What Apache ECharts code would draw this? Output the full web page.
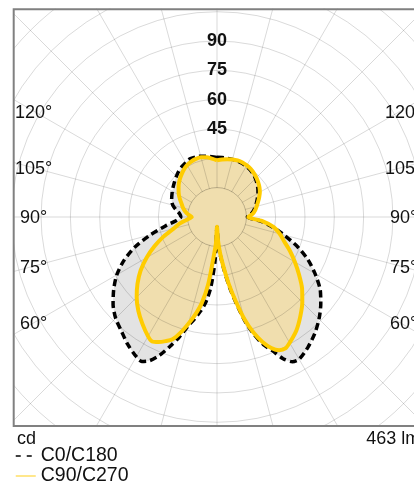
<!DOCTYPE html>
<html>
<head>
<meta charset="utf-8">
<style>
  html, body { margin: 0; padding: 0; background: #fff; }
  #chart { width: 414px; height: 481px; }
</style>
<script src="https://cdn.jsdelivr.net/npm/echarts@6/dist/echarts.min.js"></script>
</head>
<body>
<div id="chart"></div>
<script>
// Gamma angles (deg from nadir) shared by all C-planes
const gamma = [0, 2.5, 5, 7.5, 10, 12.5, 15, 17.5, 20, 22.5, 25, 27.5, 30,
  35, 40, 45, 50, 55, 60, 65, 70, 75, 80, 85, 90,
  95, 100, 105, 110, 115, 120, 125, 130, 135, 140, 145, 150, 155, 160, 165, 170, 175, 180];

// Luminous intensity, cd (right half C0 / C90, left half C180 / C270)
const c0 = [5, 14, 20, 27, 36, 45, 55, 63, 69.5, 74, 80, 83.5, 84,
  81.2, 77.8, 73.8, 69.3, 64.4, 57.9, 51.2, 43.5, 35.5, 28.5, 22, 15.5,
  17.5, 19, 20.3, 21.5, 22.8, 24.2, 25.5, 26.7, 27.8, 28.8, 29.5, 30, 30.3, 30.5, 30.5, 30.5, 30.5, 30.5];
const c180 = [5, 22, 36, 44, 49, 53.5, 58, 64.5, 70.5, 76.5, 81, 83.3, 82.5,
  79.6, 76.1, 73.3, 69.4, 64.5, 59.2, 52.5, 44.5, 35.3, 27, 20.8, 18.5,
  19.2, 21.3, 23.4, 24.7, 25.5, 26.4, 27.3, 28.3, 29.4, 30.5, 31.4, 32.1, 32.8, 32.6, 32.2, 31.6, 31, 30.5];
const c90 = [5, 12, 19, 26, 35, 44, 54, 62, 68, 72.5, 75.2, 75.8, 74.3,
  70.8, 66.3, 61.7, 56.8, 51.2, 46, 41.2, 36.6, 33.2, 29.3, 23, 16,
  18.3, 19.8, 21, 22.3, 23.8, 25.3, 26.5, 27.5, 28.5, 29.3, 30, 30.5, 30.8, 30.8, 30.5, 30, 29.5, 29];
const c270 = [5, 14, 21, 35, 44.6, 51, 56.5, 62, 66.5, 68.7, 70.6, 71.8, 70.5,
  66.6, 62.6, 58.1, 53.1, 47.7, 41.6, 35.2, 29, 23, 19.5, 15.5, 12.9,
  14.8, 16.5, 18, 19.2, 20.8, 22.5, 24, 25.6, 27, 28.3, 29.6, 30.6, 31.3, 31.6, 31.6, 31, 30, 29];

const seriesNames = ['C0/C180', 'C90/C270'];
const ringLabels = [45, 60, 75, 90];
const sideAngleLabels = [120, 105, 90, 75, 60];
const unitLabel = 'cd';
const fluxLabel = '463 lm';

// Layout
const CX = 217, CY = 217;
const PX_PER_CD = 1.955;
const R_MAX = 150;
const R_STEP = 15;
const LABEL_DX = 184.5;
const FRAME = { x: 13.7, y: 9.3, w: 406.6, h: 416.7 };
const fontFamily = '"Liberation Sans", Arial, Helvetica, sans-serif';
const gridColor = 'rgba(0,0,0,0.15)';
const greyFill = '#e3e3e3';
const tanFill = '#f0deae';
const yellow = '#ffcc00';
const SMOOTH = 0.25;

// Angle axis: 0 at top, clockwise. Right half: 180 - gamma, left half: 180 + gamma.
function closedCurve(right, left) {
  const pts = [];
  for (let i = gamma.length - 1; i >= 0; i--) pts.push([right[i], 180 - gamma[i]]);
  for (let i = 0; i < gamma.length; i++) pts.push([left[i], 180 + gamma[i]]);
  return pts;
}
const curveC0 = closedCurve(c0, c180);
const curveC90 = closedCurve(c90, c270);

function areaSeries(name, data, color, z) {
  return {
    name, type: 'line', coordinateSystem: 'polar', data, symbol: 'none',
    smooth: SMOOTH, z, silent: true,
    lineStyle: { width: 0, opacity: 0 },
    areaStyle: { color, opacity: 1 }
  };
}

const graphics = [
  // white surround outside the plot frame
  { type: 'rect', silent: true, z: 10, shape: { x: 0, y: 0, width: FRAME.x - 0.7, height: 481 }, style: { fill: '#fff' } },
  { type: 'rect', silent: true, z: 10, shape: { x: 0, y: 0, width: 414, height: FRAME.y - 0.9 }, style: { fill: '#fff' } },
  { type: 'rect', silent: true, z: 10, shape: { x: 0, y: FRAME.y + FRAME.h + 0.9, width: 414, height: 60 }, style: { fill: '#fff' } },
  { type: 'rect', silent: true, z: 11, shape: { x: FRAME.x, y: FRAME.y, width: FRAME.w, height: FRAME.h },
    style: { fill: 'none', stroke: '#808080', lineWidth: 2 } },
  // spoke-free hub inside the first ring
  { type: 'circle', silent: true, z: 4, shape: { cx: CX, cy: CY, r: R_STEP * PX_PER_CD },
    style: { fill: tanFill, stroke: gridColor, lineWidth: 1 } },
  { type: 'text', silent: true, z: 12, x: 17, y: 439,
    style: { text: unitLabel, font: '18px ' + fontFamily, fill: '#111', align: 'left', verticalAlign: 'middle' } },
  { type: 'text', silent: true, z: 12, x: FRAME.x + FRAME.w, y: 439,
    style: { text: fluxLabel, font: '18px ' + fontFamily, fill: '#111', align: 'right', verticalAlign: 'middle' } }
];
sideAngleLabels.forEach(a => {
  const y = CY - (LABEL_DX - 1) * Math.tan((a - 90) * Math.PI / 180) + 1.5;
  [CX - LABEL_DX + 1, CX + LABEL_DX + 2].forEach(x => {
    graphics.push({ type: 'text', silent: true, z: 12, x, y,
      style: { text: a + '°', font: '18px ' + fontFamily, fill: '#111', align: 'center', verticalAlign: 'middle' } });
  });
});

const chart = echarts.init(document.getElementById('chart'), null, { renderer: 'canvas' });
chart.setOption({
  animation: false,
  textStyle: { fontFamily },
  polar: { center: [CX, CY], radius: R_MAX * PX_PER_CD },
  angleAxis: {
    type: 'value', min: 0, max: 360, interval: 15, startAngle: 90, clockwise: true, z: 3,
    axisLine: { show: false }, axisTick: { show: false }, axisLabel: { show: false },
    splitLine: { show: true, lineStyle: { color: gridColor, width: 1 } }
  },
  radiusAxis: {
    type: 'value', min: 0, max: R_MAX, interval: R_STEP, z: 3,
    axisLine: { show: false }, axisTick: { show: false },
    splitLine: { show: true, lineStyle: { color: gridColor, width: 1 } },
    axisLabel: {
      show: true, margin: 0, align: 'center', verticalAlign: 'middle',
      fontSize: 18, fontWeight: 'bold', color: '#111',
      formatter: v => ringLabels.includes(v) ? String(v) : ''
    }
  },
  legend: {
    orient: 'vertical', left: 15, top: 446, height: 60, padding: 0, itemGap: 0,
    itemWidth: 20, itemHeight: 12, z: 12, selectedMode: false,
    textStyle: { fontSize: 19.5, color: '#111', lineHeight: 16, padding: 0 },
    data: [
      { name: seriesNames[0], itemStyle: { opacity: 0 }, lineStyle: { width: 1.5, type: [5, 6] } },
      { name: seriesNames[1], itemStyle: { opacity: 0 }, lineStyle: { width: 1.5, color: '#ffdf66' } }
    ]
  },
  graphic: graphics,
  series: [
    areaSeries('C0/C180 fill', curveC0, greyFill, 1),
    areaSeries('C90/C270 fill', curveC90, tanFill, 2),
    {
      name: seriesNames[0], type: 'line', coordinateSystem: 'polar', data: curveC0,
      symbol: 'none', smooth: SMOOTH, z: 5,
      itemStyle: { color: '#000' },
      lineStyle: { color: '#000', width: 3.5, type: [7, 4] }
    },
    {
      name: seriesNames[1], type: 'line', coordinateSystem: 'polar', data: curveC90,
      symbol: 'none', smooth: SMOOTH, z: 6,
      itemStyle: { color: yellow },
      lineStyle: { color: yellow, width: 4 }
    }
  ]
});
</script>
</body>
</html>
